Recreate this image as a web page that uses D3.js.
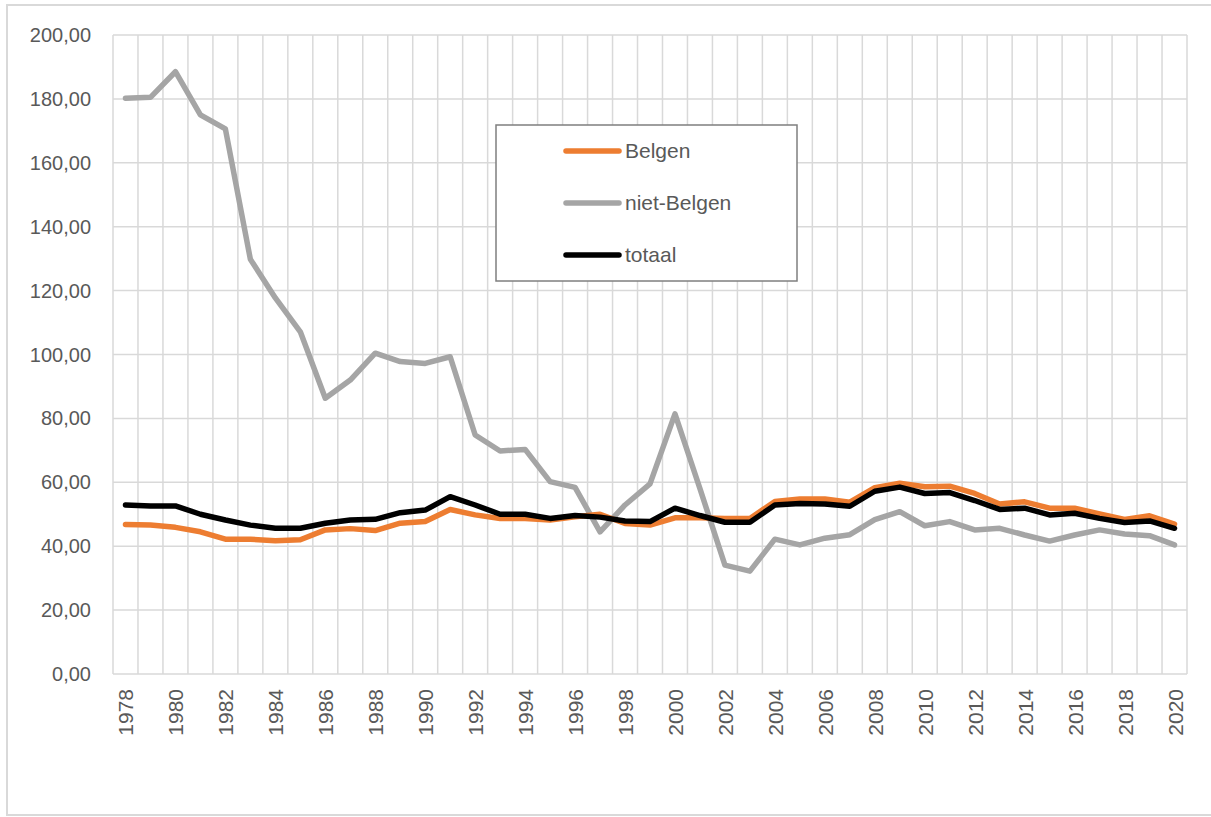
<!DOCTYPE html>
<html>
<head>
<meta charset="utf-8">
<script src="https://cdn.jsdelivr.net/npm/d3@7"></script>
<style>
  body { margin: 0; background: #fff; }
  text { font-family: "Liberation Sans", Arial, sans-serif; fill: #595959; }
</style>
</head>
<body>
<div id="chart"></div>
<script>
// data
var years = d3.range(1978, 2021);
var belgen = [46.8, 46.6, 45.9, 44.5, 42.2, 42.2, 41.7, 42.0, 45.1, 45.5, 44.9, 47.2, 47.7, 51.5, 49.8,
  48.7, 48.7, 48.2, 49.2, 50.0, 47.1, 46.6, 48.9, 48.9, 48.7, 48.7, 54.0, 54.8, 54.8, 53.8, 58.3,
  59.7, 58.6, 58.8, 56.5, 53.2, 53.9, 51.9, 51.9, 50.1, 48.4, 49.5, 46.9];
var nietBelgen = [180.2, 180.5, 188.5, 175.0, 170.6, 129.8, 117.7, 107.1, 86.3, 92.0, 100.4, 97.8, 97.2, 99.3, 74.8,
  69.8, 70.3, 60.2, 58.4, 44.5, 52.9, 59.5, 81.4, 58.0, 34.1, 32.2, 42.2, 40.4, 42.5, 43.6, 48.3,
  50.8, 46.4, 47.7, 45.1, 45.6, 43.5, 41.6, 43.5, 45.1, 43.8, 43.3, 40.4];
var totaal = [52.9, 52.6, 52.6, 50.0, 48.2, 46.6, 45.6, 45.6, 47.2, 48.2, 48.4, 50.5, 51.3, 55.5, 52.9,
  50.0, 50.0, 48.7, 49.6, 49.1, 47.9, 47.7, 51.9, 49.6, 47.5, 47.5, 52.9, 53.4, 53.2, 52.5, 57.2,
  58.5, 56.5, 56.8, 54.3, 51.5, 51.9, 49.8, 50.3, 48.7, 47.4, 47.9, 45.6];
var yTicks = [0, 20, 40, 60, 80, 100, 120, 140, 160, 180, 200];
var seriesNames = ["Belgen", "niet-Belgen", "totaal"];
var seriesColors = ["#ED7D31", "#A5A5A5", "#000000"];

var W = 1211, H = 817;
var svg = d3.select("#chart").append("svg")
  .attr("width", W).attr("height", H);

// outer chart frame
svg.append("rect")
  .attr("x", 7).attr("y", 5).attr("width", 1215).attr("height", 810)
  .attr("fill", "none").attr("stroke", "#D9D9D9").attr("stroke-width", 2);

var plotLeft = 113, plotRight = 1187, plotTop = 35, plotBottom = 674;

var x = d3.scaleBand().domain(years).range([plotLeft, plotRight]).padding(0);
var y = d3.scaleLinear().domain([0, 200]).range([plotBottom, plotTop]);

// horizontal gridlines
svg.append("g").selectAll("line").data(yTicks).join("line")
  .attr("x1", plotLeft).attr("x2", plotRight)
  .attr("y1", d => y(d)).attr("y2", d => y(d))
  .attr("stroke", "#D9D9D9").attr("stroke-width", 1.5);

// vertical gridlines at category boundaries
var bounds = years.map(d => x(d)).concat([x(years[years.length - 1]) + x.bandwidth()]);
svg.append("g").selectAll("line").data(bounds).join("line")
  .attr("x1", d => d).attr("x2", d => d)
  .attr("y1", plotTop).attr("y2", plotBottom)
  .attr("stroke", "#D9D9D9").attr("stroke-width", 1.5);

// y labels
svg.append("g").selectAll("text").data(yTicks).join("text")
  .attr("x", 91).attr("y", d => y(d))
  .attr("dy", "0.35em")
  .attr("text-anchor", "end")
  .style("font-size", "20px")
  .text(d => d3.format(".2f")(d).replace(".", ","));

// x labels, every other year, rotated
svg.append("g").selectAll("text").data(years.filter((d, i) => i % 2 == 0)).join("text")
  .attr("transform", d => "translate(" + (x(d) + x.bandwidth() / 2 + 8) + ",689) rotate(-90)")
  .attr("text-anchor", "end")
  .style("font-size", "21px")
  .text(d => d);

var line = d3.line()
  .x((d, i) => x(years[i]) + x.bandwidth() / 2)
  .y(d => y(d));

var allSeries = [belgen, nietBelgen, totaal];
[1, 0, 2].forEach(function(k) {
  svg.append("path")
    .datum(allSeries[k])
    .attr("fill", "none")
    .attr("stroke", seriesColors[k])
    .attr("stroke-width", 5.5)
    .attr("stroke-linejoin", "round")
    .attr("stroke-linecap", "round")
    .attr("d", line);
});

// legend
var lg = svg.append("g");
lg.append("rect")
  .attr("x", 496).attr("y", 125).attr("width", 301).attr("height", 156)
  .attr("fill", "#fff").attr("stroke", "#7F7F7F").attr("stroke-width", 1.5);
seriesNames.forEach(function(name, i) {
  var ly = 151 + i * 52;
  lg.append("line")
    .attr("x1", 566).attr("x2", 619).attr("y1", ly).attr("y2", ly)
    .attr("stroke", seriesColors[i]).attr("stroke-width", 5.5)
    .attr("stroke-linecap", "round");
  lg.append("text")
    .attr("x", 625).attr("y", ly).attr("dy", "0.35em")
    .style("font-size", "21px")
    .text(name);
});
</script>
</body>
</html>
